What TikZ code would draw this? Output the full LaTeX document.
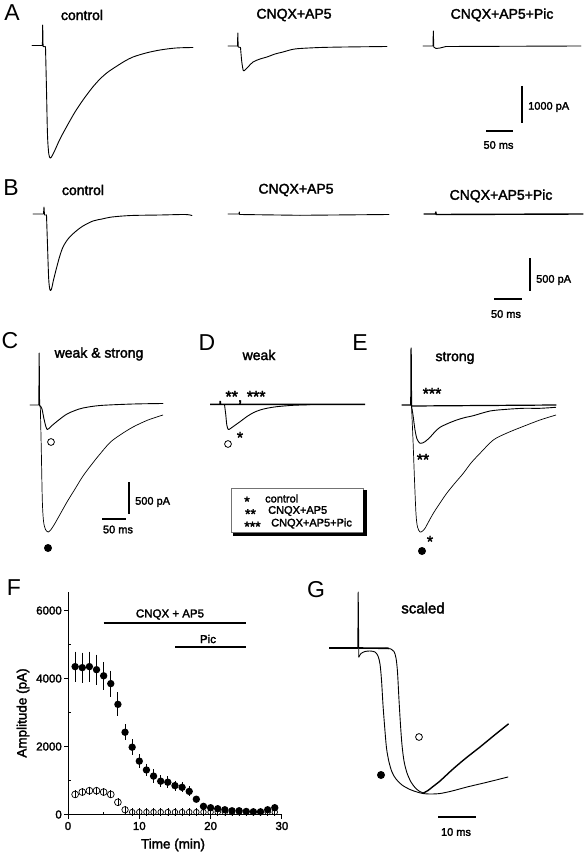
\documentclass[tikz,border=0pt]{standalone}
\usepackage{fontspec}
\setmainfont{Liberation Sans}
\newfontfamily\bfk[FakeBold=2.2]{Liberation Sans}
\begin{document}
\begin{tikzpicture}[x=1pt,y=-1pt,
  trace/.style={line width=0.9pt, line join=round, line cap=round},
  thick trace/.style={line width=1.4pt, line join=round, line cap=round},
  sbar/.style={line width=1.6pt},
  lbl/.style={inner sep=0pt, font=\bfk\fontsize{14}{16}\selectfont},
  sml/.style={inner sep=0pt, font=\bfk\fontsize{11}{13}\selectfont},
  axl/.style={inner sep=0pt, font=\bfk\fontsize{11.5}{13}\selectfont},
  axt/.style={inner sep=0pt, font=\bfk\fontsize{13.5}{15}\selectfont},
  ast/.style={inner sep=0pt, font=\bfk\fontsize{16}{18}\selectfont, yshift=-3.5pt},
  sast/.style={inner sep=0pt, font=\bfk\fontsize{14}{16}\selectfont, yshift=-3pt},
  letter/.style={inner sep=0pt, font=\fontsize{23}{26}\selectfont},
  ebar/.style={line width=0.9pt},
  axis/.style={line width=0.9pt}]
\useasboundingbox (0,0) rectangle (583,853);
\fill[white] (0,0) rectangle (583,853);

% ---------------- Panel A ----------------
\node[letter] (lA) at (12,13) {A};
\node[lbl] (tA1) at (82,15) {control};
\node[lbl] (tA2) at (294,15) {CNQX+AP5};
\node[lbl] (tA3) at (502,15) {CNQX+AP5+Pic};
\draw[trace] (32,45.5) -- (42.4,45.5) -- (42.7,25) -- (43.1,46.5) -- (45.5,46.8);
\draw[trace] plot[smooth,tension=0.5] coordinates {(45.5,46.8)(46.5,90)(47.5,135)(48.8,154)(50.3,158)(52,156)(55,150)(60,139)(67,126)(75,112)(83,100)(92,88)(100,79)(108,72)(117,66)(125,61)(133,57)(146,53)(160,50)(176,48)(193,47.5)};
\draw[trace] (228,46) -- (237.5,46) -- (237.8,33) -- (238.2,47) -- (240.5,47.5);
\draw[trace] plot[smooth,tension=0.5] coordinates {(240.5,47.5)(241.8,62)(243.3,70.5)(245,70)(248,67)(253,62)(260,59)(267,57)(275,54)(283,52)(292,49.5)(300,48.5)(320,47.5)(345,47)(387,46.5)};
\draw[trace] (423,46) -- (433,46) -- (433.3,31) -- (433.8,47) -- (436,48.5) -- (440,48) -- (446,46.5) -- (581,46);
\draw[sbar] (522,86) -- (522,123);
\node[sml, anchor=west] (sA1) at (528,107) {1000 pA};
\draw[sbar] (486,131) -- (513,131);
\node[sml] (sA2) at (498.5,145) {50 ms};

% ---------------- Panel B ----------------
\node[letter] (lB) at (11,188) {B};
\node[lbl] (tB1) at (83,190) {control};
\node[lbl] (tB2) at (296,190) {CNQX+AP5};
\node[lbl] (tB3) at (501,196) {CNQX+AP5+Pic};
\draw[trace] (33,214) -- (43.5,214) -- (44,207) -- (44.5,215) -- (46.5,215);
\draw[trace] plot[smooth,tension=0.5] coordinates {(46.5,215)(47.5,245)(48.7,279)(50,290)(51.5,289)(53.5,280)(56,270)(59.5,257)(63,247)(68,239)(75,232)(83,226)(93,221)(102,219)(112,217)(131,215.5)(160,215)(185,214.5)(192,215.5)};
\draw[trace] (228,214) -- (239,214) -- (239.3,212) -- (239.6,214.5) -- (300,215.3) -- (389,214.5);
\draw[thick trace] (424,214) -- (435.5,214) -- (435.8,212) -- (436.2,214.5) -- (583,214);
\draw[sbar] (530,258) -- (530,291);
\node[sml, anchor=west] (sB1) at (536,280) {500 pA};
\draw[sbar] (494,299) -- (522,299);
\node[sml] (sB2) at (506,314) {50 ms};

% ---------------- Panel C ----------------
\node[letter] (lC) at (10,341) {C};
\node[lbl] (tC) at (99,354) {weak \& strong};
\draw[trace] (30,405) -- (38.8,405) -- (39.2,353) -- (39.6,406) -- (40.3,406);
\draw[trace] plot[smooth,tension=0.5] coordinates {(40.3,406)(42,409)(44,419)(46,427)(47.3,429.5)(49,428.5)(52,425.5)(55,423)(60,419)(67,414)(75,410.5)(83,408)(100,405.5)(133,404)(163,403.5)};
\draw[line width=0.7pt, line join=round] plot[smooth,tension=0.5] coordinates {(40.3,406)(41.3,450)(42.3,500)(43.5,521)(45.5,529.5)(48.3,532)(51,529.5)(54,525)(58,518)(67,502)(75,489)(83,476)(92,464)(100,454)(110,442.5)(120,435)(133,427)(148,420)(163,415)};
\draw[line width=0.8pt] (51,442) circle[radius=3.4pt];
\fill (48,548) circle[radius=4pt];
\draw[sbar] (129,482) -- (129,514);
\node[sml, anchor=west] (sC1) at (135,502) {500 pA};
\draw[sbar] (102,519) -- (126,519);
\node[sml] (sC2) at (118,529.5) {50 ms};

% ---------------- Panel D ----------------
\node[letter] (lD) at (207,343) {D};
\node[lbl] (tD) at (259,355) {weak};
\node[ast, yshift=-1pt] (aD1) at (245.5,393) {**, ***};
\draw[line width=1.5pt] (210,404.3) -- (220,404.3) -- (220.2,401) -- (220.5,404.3) -- (365,404.3);
\draw[trace] plot[smooth,tension=0.5] coordinates {(224.5,404.5)(225.8,415)(226.8,425)(228.3,429.5)(230.5,428.5)(233,426.7)(240,421.7)(246.7,416.7)(253.3,412.7)(260,410)(266.7,408.3)(276.7,406.7)(293,405.3)(310,404.7)};
\node[ast] (aD2) at (240,434) {*};
\draw[line width=0.8pt] (228,444) circle[radius=3.4pt];

% legend
\draw[line width=0.5pt, black!55] (231,488) rectangle (363,532);
\draw[line width=3.2pt] (365,490) -- (365,534.5) -- (233,534.5);
\node[sast] (g1a) at (247,498.5) {*};
\node[sml, anchor=west] (g1b) at (265,498.5) {control};
\node[sast] (g2a) at (250.5,511) {**};
\node[sml, anchor=west] (g2b) at (268,511) {CNQX+AP5};
\node[sast] (g3a) at (252.5,523.5) {***};
\node[sml, anchor=west] (g3b) at (271,523.5) {CNQX+AP5+Pic};

% ---------------- Panel E ----------------
\node[letter] (lE) at (360,343) {E};
\node[lbl] (tE) at (455,358) {strong};
\node[ast] (aE1) at (432,390) {***};
\draw[trace, line width=1.2pt] (402,405) -- (410.8,405) -- (411.1,348) -- (411.5,406) -- (556,405);
\draw[trace] plot[smooth,tension=0.5] coordinates {(411.5,406)(413,415)(415,430)(417,439)(420,443.3)(422.5,443)(425,441.7)(430,437.3)(435,431.7)(440,427.3)(448.3,423.3)(456.7,420)(465,417.5)(473.3,415.7)(490,411)(506.7,409.3)(523.3,408.3)(540,408.3)(555.7,407.3)};
\draw[line width=0.7pt, line join=round] plot[smooth,tension=0.5] coordinates {(411.5,406)(413,440)(414.5,480)(416,514)(417.5,527)(420,532)(422.5,531)(425,528.3)(429,521)(433.3,513.3)(440,503)(446.7,493.3)(455,483)(463.3,473.3)(471,463)(480,453.3)(493.3,440)(507,433)(523,426.5)(540,420)(556,415)};
\node[ast] (aE2) at (423,456) {**};
\node[ast] (aE3) at (430,538) {*};
\fill (422,551) circle[radius=4pt];

% ---------------- Panel F ----------------
\node[letter] (lF) at (14,588) {F};
\draw[axis] (68,592) -- (68,814.5) -- (282,814.5);
\foreach \v in {0,2000,4000,6000} {
  \draw[axis] (64,{814.5-0.034*\v}) -- (68,{814.5-0.034*\v});
  \node[axl, anchor=east] (yl\v) at (62,{814.5-0.034*\v}) {\v};
}
\foreach \v in {1000,3000,5000} \draw[axis] (68,{814.5-0.034*\v}) -- (71,{814.5-0.034*\v});
\foreach \t in {0,10,20,30} {
  \draw[axis] ({68+7.13*\t},814.5) -- ({68+7.13*\t},818.5);
  \node[axl] (xl\t) at ({68+7.13*\t},826) {\t};
}
\foreach \t in {5,15,25} \draw[axis] ({68+7.13*\t},814.5) -- ({68+7.13*\t},811.5);
\node[axt] (xt) at (173,845) {Time (min)};
\node[axt, rotate=90] (yt) at (23,713) {Amplitude (pA)};
\draw[line width=1.3pt] (103.6,623) -- (246.3,623);
\node[axl] (bar1) at (170,614.5) {CNQX + AP5};
\draw[line width=1.3pt] (175,647) -- (246.3,647);
\node[axl] (bar2) at (208,639) {Pic};
\foreach \t/\v/\e in {1/4350/15,2/4320/15,3/4350/15,4/4260/15,5/4080/14,6/3850/13,7/3240/12,8/2420/8,9/1980/8,10/1570/7,11/1310/6,12/1130/7,13/980/6,14/950/6,15/850/5,16/800/5,17/680/5,18/450/3,19/240/3,20/200/2,21/170/2,22/140/2,23/110/2,24/110/2,25/90/2,26/80/2,27/80/2,28/140/2,29/200/3} {
  \pgfmathsetmacro{\px}{68+7.13*\t}
  \pgfmathsetmacro{\py}{814.5-0.034*\v}
  \draw[ebar] (\px,{\py-\e}) -- (\px,{\py+\e});
  \fill (\px,\py) circle[radius=3.7pt];
}
\foreach \t/\v/\e/\r in {1/590/4/3.4,2/660/4/3.4,3/700/4/3.4,4/700/4/3.4,5/660/4/3.4,6/590/4/3.4,7/360/4/3.4,8/140/4/3.2,9/70/4/2.8,10/70/4/2.8,11/70/4/2.8,12/70/4/2.8,13/70/4/2.8,14/70/4/2.8,15/70/4/2.8,16/70/4/2.8,17/70/4/2.8,18/70/4/2.8,19/70/4/2.8,20/70/4/2.8,21/70/4/2.8,22/70/4/2.8,23/70/4/2.8,24/70/4/2.8,25/70/4/2.8,26/70/4/2.8,27/70/4/2.8,28/70/4/2.8,29/70/4/2.8} {
  \pgfmathsetmacro{\px}{68+7.13*\t}
  \pgfmathsetmacro{\py}{814.5-0.034*\v}
  \draw[line width=0.6pt] (\px,{\py-\e}) -- (\px,{\py+\e});
  \draw[line width=0.7pt] (\px,\py) circle[radius=\r pt];
}

% ---------------- Panel G ----------------
\node[letter] (lG) at (316,590) {G};
\node[lbl, font=\bfk\fontsize{15}{17}\selectfont] (tG) at (423,608) {scaled};
\draw[line width=1.6pt] (329,648) -- (357.8,648);
\draw[trace] (357.8,648) -- (358.2,592) -- (358.8,657);
\draw[trace] plot[smooth,tension=0.5] coordinates {(358.8,657)(361,653.5)(365,651.5)(370,651)(375,652)(378,656)(380,664)(381.5,680)(383,705)(384.5,725)(386.5,748)(389,762)(392,772)(396,779)(402,785)(410,789.5)(417,792)(423,793.5)(430,794)(440,793.5)(452,791)(467,787)(488,782)(508,777)};
\draw[line width=1.6pt] (359,648) -- (389,648.3);
\draw[trace] plot[smooth,tension=0.5] coordinates {(385,648.3)(391,649)(394,651.5)(396,658)(397.5,672)(399,700)(400.5,725)(402,745)(404,761)(407,773)(411,782)(415,787.5)(419,791)(423.3,793)};
\draw[thick trace] plot[smooth,tension=0.5] coordinates {(423.3,793)(428,790.5)(433,786.5)(440,781)(453,769)(466,758)(480,747)(494,735.5)(508.3,724)};
\draw[line width=0.8pt] (419,737) circle[radius=3.4pt];
\fill (381,775) circle[radius=4pt];
\draw[line width=1.5pt] (438,817) -- (476,817);
\node[sml] (sG) at (456,832) {10 ms};
\end{tikzpicture}
\end{document}
